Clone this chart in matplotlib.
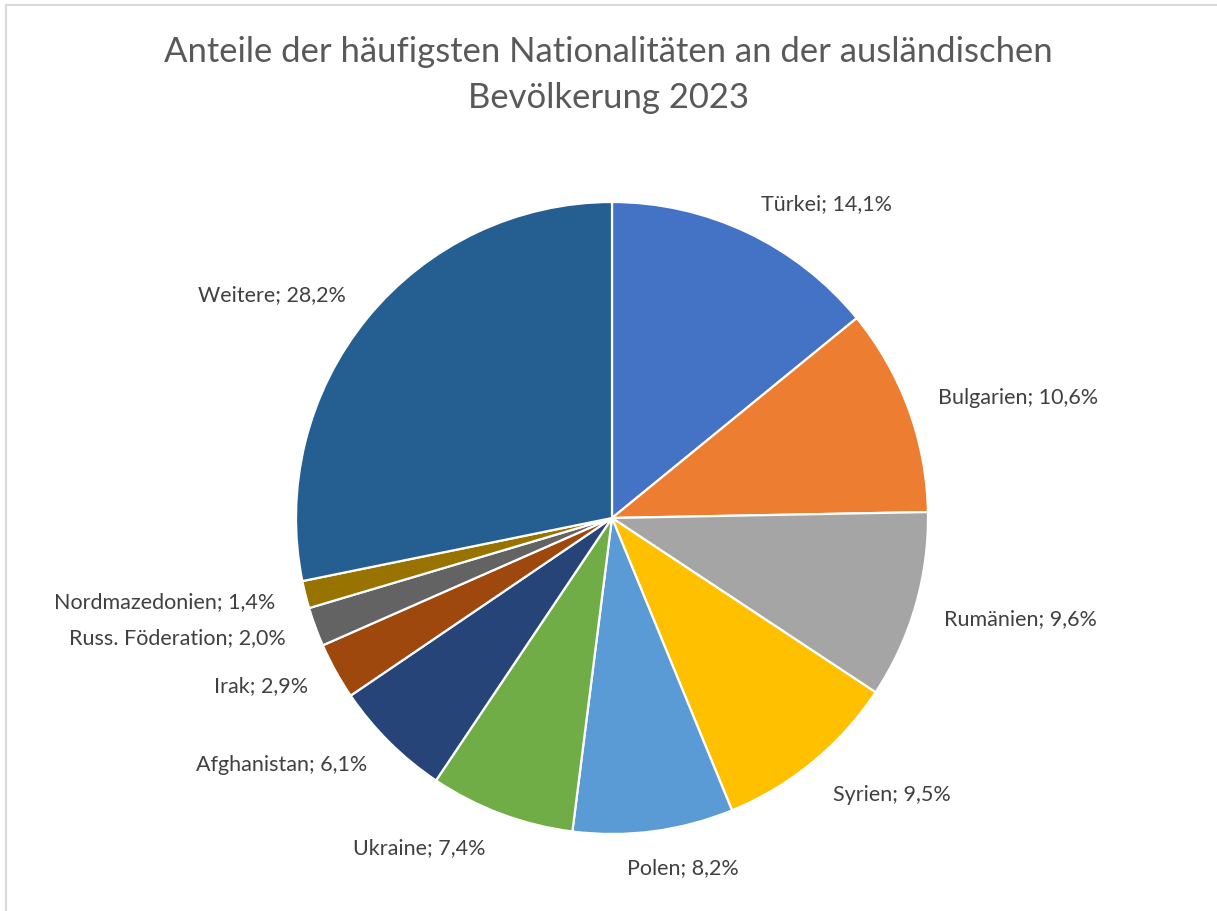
import numpy as np
import matplotlib.pyplot as plt
from matplotlib.lines import Line2D

plt.rcParams['font.family'] = ['Lato', 'DejaVu Sans']

# data (percent of foreign population 2023)
nations = ["Türkei", "Bulgarien", "Rumänien", "Syrien", "Polen", "Ukraine",
           "Afghanistan", "Irak", "Russ. Föderation", "Nordmazedonien", "Weitere"]
shares = [14.1, 10.6, 9.6, 9.5, 8.2, 7.4, 6.1, 2.9, 2.0, 1.4, 28.2]
colors = ["#4472C4", "#ED7D31", "#A5A5A5", "#FFC000", "#5B9BD5", "#70AD47",
          "#264478", "#9E480E", "#636363", "#997300", "#255E91"]

# small pixel nudges for a few labels (Excel best fit placement)
nudge = {"Ukraine": (-5, -5), "Polen": (-31, -6), "Syrien": (0, -8),
         "Rumänien": (-2, -4), "Weitere": (3, 3)}

W, H = 1217, 911
fig = plt.figure(figsize=(W / 100, H / 100), dpi=100)

cx, cy, r = 612, 518, 316
ax = fig.add_axes([(cx - r) / W, (H - cy - r) / H, 2 * r / W, 2 * r / H])
wedges, _ = ax.pie(shares, colors=colors, startangle=90, counterclock=False,
                   radius=1.0, wedgeprops=dict(edgecolor="white", linewidth=1.6))
ax.set_xlim(-1, 1)
ax.set_ylim(-1, 1)
ax.set_aspect("equal")
ax.axis("off")

for w, name, val in zip(wedges, nations, shares):
    mid = np.deg2rad((w.theta1 + w.theta2) / 2)
    x, y = 1.1 * np.cos(mid), 1.1 * np.sin(mid)
    ha = "left" if x > 0 else "right"
    dx, dy = nudge.get(name, (0, 0))
    pct = f"{val:.1f}".replace(".", ",")
    ax.annotate(f"{name}; {pct}%", (x, y), xytext=(dx * 0.72, dy * 0.72),
                textcoords="offset points", ha=ha, va="center", fontsize=15.5,
                color="#404040", annotation_clip=False)

fig.text(0.5, 1 - 52 / H, "Anteile der häufigsten Nationalitäten an der ausländischen",
         ha="center", va="center", fontsize=24.9, color="#595959")
fig.text(0.5, 1 - 98 / H, "Bevölkerung 2023",
         ha="center", va="center", fontsize=24.9, color="#595959")

# chart frame (only top and left edges visible in the crop)
fig.add_artist(Line2D([6 / W, 6 / W], [0, 1 - 5 / H], transform=fig.transFigure,
                      color="#D9D9D9", linewidth=1.5))
fig.add_artist(Line2D([6 / W, 1], [1 - 5 / H, 1 - 5 / H], transform=fig.transFigure,
                      color="#D9D9D9", linewidth=1.5))

fig.savefig("out.png", dpi=100)
